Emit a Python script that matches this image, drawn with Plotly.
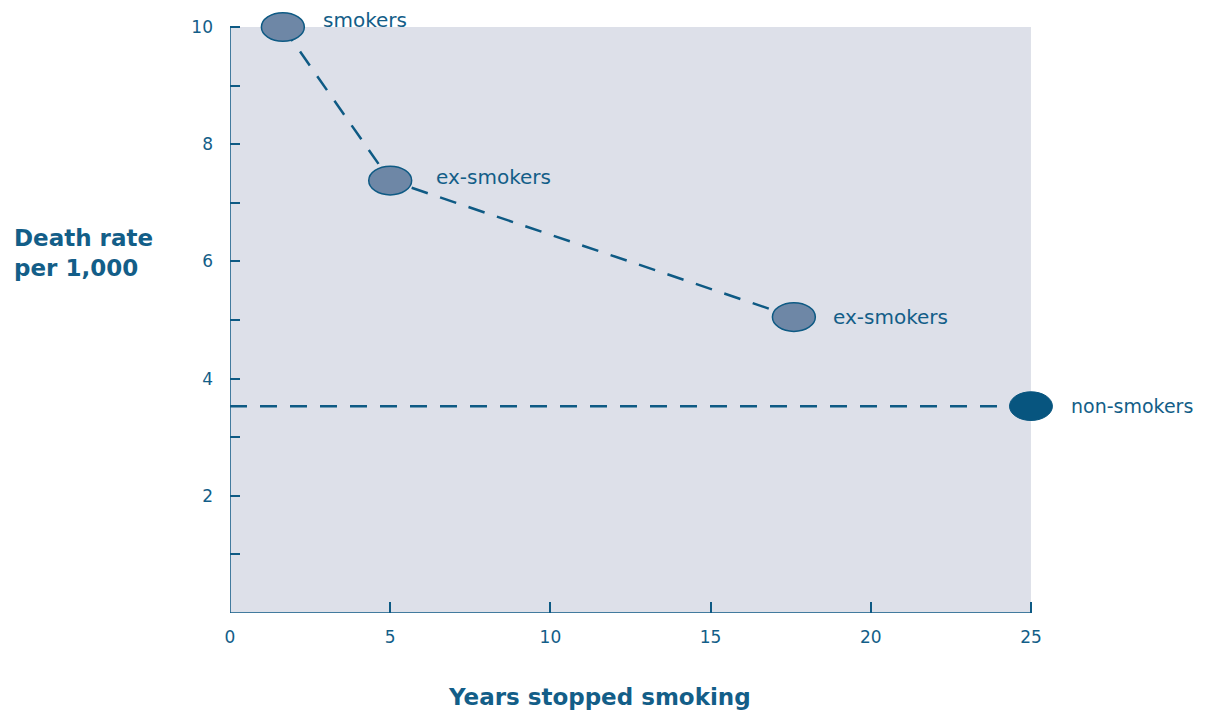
import plotly.graph_objects as go

# Data
years_ex = [1.65, 5.0, 17.6]
rate_ex = [10.0, 7.38, 5.05]
labels_ex = ["smokers", "ex-smokers", "ex-smokers"]
nonsmoker_years = [0, 25]
nonsmoker_rate = [3.53, 3.53]
nonsmoker_label = "non-smokers"
x_ticks = [0, 5, 10, 15, 20, 25]
y_ticks = [0, 1, 2, 3, 4, 5, 6, 7, 8, 9, 10]
y_ticktext = ["", "", "2", "", "4", "", "6", "", "8", "", "10"]

BLUE = "#0E5A84"
TEXT = "#135E88"
FILL = "#6E87A6"
BG = "#DDE0E9"
FONT = "DejaVu Sans, Liberation Sans, sans-serif"

fig = go.Figure()

dash = "17px,13px"
fig.add_trace(go.Scatter(x=years_ex, y=rate_ex, mode="lines",
                         line=dict(color=BLUE, width=2.5, dash=dash),
                         hoverinfo="skip", showlegend=False))
fig.add_trace(go.Scatter(x=nonsmoker_years, y=nonsmoker_rate, mode="lines",
                         line=dict(color=BLUE, width=2.5, dash=dash),
                         hoverinfo="skip", showlegend=False))

shapes = []
# grey plot background limited to the data area
shapes.append(dict(type="rect", xref="x", yref="y", x0=0, x1=x_ticks[-1], y0=0, y1=y_ticks[-1],
                   fillcolor=BG, line=dict(width=0), layer="below"))
# axis lines
shapes.append(dict(type="line", xref="x", yref="y", x0=0, x1=0, y0=0, y1=y_ticks[-1],
                   line=dict(color=BLUE, width=1.5), layer="above"))
shapes.append(dict(type="line", xref="x", yref="y", x0=0, x1=x_ticks[-1], y0=0, y1=0,
                   line=dict(color=BLUE, width=1.5), layer="above"))

hw, hh = 0.67, 0.245
for x, y in zip(years_ex, rate_ex):
    shapes.append(dict(type="circle", xref="x", yref="y", x0=x - hw, x1=x + hw,
                       y0=y - hh, y1=y + hh, fillcolor=FILL,
                       line=dict(color=BLUE, width=1.5), layer="above"))
nx, ny = nonsmoker_years[-1], nonsmoker_rate[-1]
shapes.append(dict(type="circle", xref="x", yref="y", x0=nx - hw, x1=nx + hw,
                   y0=ny - hh, y1=ny + hh, fillcolor="#07557F",
                   line=dict(color="#07557F", width=1), layer="above"))

annotations = []
shifts = [(38, 7), (44, 4), (37, 0)]
for (x, y, t), (dx, dy) in zip(zip(years_ex, rate_ex, labels_ex), shifts):
    annotations.append(dict(x=x, y=y, xref="x", yref="y", text=t, showarrow=False,
                            xanchor="left", yanchor="middle", xshift=dx, yshift=dy,
                            font=dict(family=FONT, size=20, color=TEXT)))
annotations.append(dict(x=nx, y=ny, xref="x", yref="y", text=nonsmoker_label, showarrow=False,
                        xanchor="left", yanchor="middle", xshift=38, yshift=0,
                        font=dict(family=FONT, size=19, color=TEXT)))
annotations.append(dict(x=-0.2617, y=0.597, xref="paper", yref="paper",
                        text="<b>Death rate<br>per 1,000</b>", showarrow=False,
                        xanchor="left", yanchor="middle", align="left",
                        font=dict(family=FONT, size=23, color=TEXT)))
annotations.append(dict(x=0.443, y=-0.139, xref="paper", yref="paper",
                        text="<b>Years stopped smoking</b>", showarrow=False,
                        xanchor="center", yanchor="middle",
                        font=dict(family=FONT, size=23, color=TEXT)))

fig.update_layout(
    width=1199, height=705,
    margin=dict(l=222, r=144, t=2, b=100),
    paper_bgcolor="white", plot_bgcolor="white",
    shapes=shapes, annotations=annotations,
    xaxis=dict(range=[0, 26], tickvals=x_ticks, ticks="inside", ticklen=11,
               tickcolor=BLUE, tickwidth=1.5, showgrid=False, zeroline=False,
               showline=False, ticklabelstandoff=12,
               tickfont=dict(family=FONT, size=17, color=TEXT)),
    yaxis=dict(range=[0, 10.29], tickvals=y_ticks, ticktext=y_ticktext, ticks="inside",
               ticklen=10, tickcolor=BLUE, tickwidth=1.5, showgrid=False, zeroline=False,
               showline=False, ticklabelstandoff=16,
               tickfont=dict(family=FONT, size=17, color=TEXT)),
)

fig.write_html("out.html")
